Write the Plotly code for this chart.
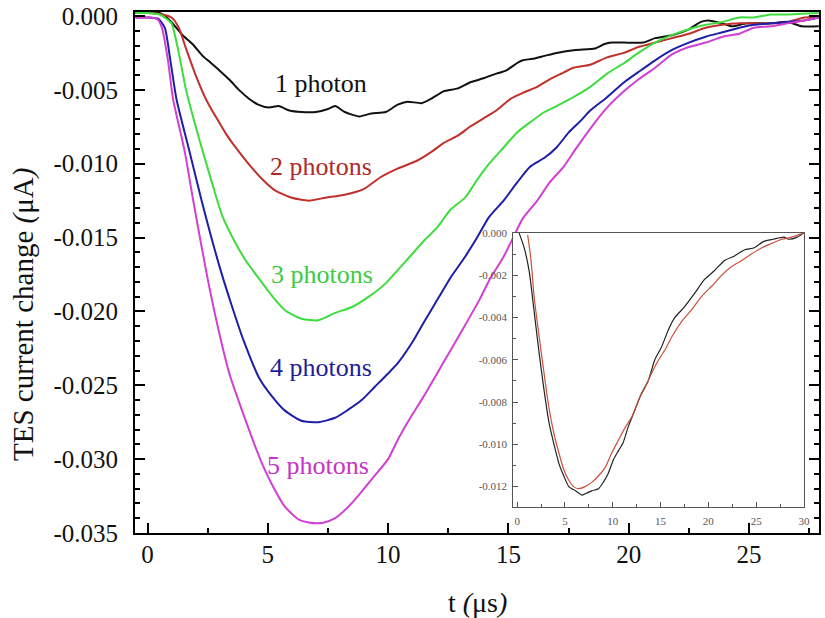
import plotly.graph_objects as go

# Averaged TES pulses for 1..5 detected photons (time in microseconds, current in microamps)
t_1ph = [-0.5, 0.0, 0.5, 0.93, 1.46, 1.87, 2.29, 2.58, 3.0, 3.4, 3.8, 4.22, 4.6, 5.05, 5.45, 5.9, 6.4,
         7.0, 7.5, 7.8, 8.2, 8.8, 9.3, 9.9, 10.4, 10.8, 11.4, 11.8, 12.3, 12.9, 13.4, 14.0, 14.5, 14.9,
         15.35, 15.6, 16.0, 16.5, 17.0, 17.8, 18.6, 19.0, 19.3, 19.8, 20.6, 21.1, 21.8, 22.5, 23.0,
         23.3, 23.9, 24.3, 24.9, 25.9, 26.6, 27.2, 27.9]
i_1ph = [0.0002, 0.0002, 0.0002, -0.0003, -0.0013, -0.0019, -0.0027, -0.0031, -0.0037, -0.0043,
         -0.0050, -0.0056, -0.0060, -0.0062, -0.0061, -0.0064, -0.0065, -0.0065, -0.0063, -0.0061,
         -0.0065, -0.0068, -0.0066, -0.0065, -0.0060, -0.0058, -0.0059, -0.0056, -0.0051, -0.0049,
         -0.0045, -0.0042, -0.0039, -0.0037, -0.0032, -0.0030, -0.0029, -0.0027, -0.0025, -0.0023,
         -0.0022, -0.0019, -0.0018, -0.0018, -0.0018, -0.0015, -0.0013, -0.0009, -0.0004, -0.0003,
         -0.0005, -0.0007, -0.0005, -0.0005, -0.0004, -0.0007, -0.0007]

t_2ph = [-0.5, 0.0, 0.6, 1.0, 1.3, 1.6, 2.0, 2.45, 3.27, 3.53, 4.35, 4.8, 5.3, 6.0, 6.7, 7.4, 8.2, 9.0,
         9.7, 10.3, 11.2, 11.8, 12.3, 12.9, 13.4, 14.0, 14.5, 15.1, 15.6, 16.2, 16.7, 17.2, 17.7, 18.4,
         19.1, 19.8, 20.4, 21.1, 21.8, 22.5, 23.2, 23.9, 24.6, 25.2, 25.9, 26.6, 27.3, 27.9]
i_2ph = [0.0002, 0.0002, 0.0001, -0.0001, -0.0008, -0.0022, -0.0040, -0.0057, -0.0080, -0.0086,
         -0.0103, -0.0111, -0.0118, -0.0123, -0.0125, -0.0123, -0.0121, -0.0117, -0.0109, -0.0104,
         -0.0098, -0.0092, -0.0086, -0.0081, -0.0075, -0.0069, -0.0064, -0.0056, -0.0052, -0.0048,
         -0.0043, -0.0039, -0.0035, -0.0033, -0.0028, -0.0025, -0.0021, -0.0018, -0.0015, -0.0012,
         -0.0008, -0.0006, -0.0005, -0.0005, -0.0005, -0.0004, -0.0001, -0.0001]

t_3ph = [-0.5, 0.0, 0.5, 0.8, 1.0, 1.3, 1.6, 2.16, 2.7, 3.1, 3.6, 4.06, 4.64, 5.2, 5.7, 6.4, 7.1, 7.8, 8.5,
         9.2, 9.9, 10.4, 10.9, 11.5, 12.05, 12.6, 13.2, 13.7, 14.2, 14.8, 15.35, 15.9, 16.5, 17.0, 17.7,
         18.4, 19.1, 19.8, 20.4, 21.1, 21.8, 22.5, 23.2, 23.9, 24.6, 25.2, 25.9, 26.6, 27.9]
i_3ph = [0.0002, 0.0002, 0.0001, -0.0002, -0.0005, -0.0025, -0.0050, -0.0084, -0.0114, -0.0135,
         -0.0152, -0.0165, -0.0178, -0.0190, -0.0199, -0.0205, -0.0206, -0.0201, -0.0197, -0.0190,
         -0.0181, -0.0172, -0.0163, -0.0152, -0.0143, -0.0131, -0.0123, -0.0111, -0.0100, -0.0089,
         -0.0079, -0.0072, -0.0065, -0.0061, -0.0055, -0.0048, -0.0039, -0.0032, -0.0025, -0.0018,
         -0.0013, -0.0009, -0.0006, -0.0004, -0.0001, -0.0001, 0.0001, 0.0001, 0.0002]

t_4ph = [-0.5, 0.0, 0.45, 0.72, 0.95, 1.2, 1.75, 2.25, 3.0, 3.5, 4.0, 4.64, 5.2, 5.7, 6.4, 7.1, 7.8, 8.3,
         8.9, 9.45, 10.0, 10.4, 11.0, 11.5, 12.05, 12.6, 13.2, 13.7, 14.2, 14.8, 15.35, 15.9, 16.5, 17.0,
         17.5, 18.0, 18.4, 19.1, 19.8, 20.4, 21.1, 21.8, 22.5, 23.2, 23.9, 24.6, 25.2, 25.9, 26.6, 27.3,
         27.9]
i_4ph = [-0.0001, -0.0001, -0.0002, -0.0008, -0.0030, -0.0056, -0.0092, -0.0125, -0.0170, -0.0196,
         -0.0220, -0.0245, -0.0258, -0.0267, -0.0274, -0.0275, -0.0272, -0.0267, -0.0260, -0.0251,
         -0.0242, -0.0235, -0.0221, -0.0207, -0.0192, -0.0177, -0.0163, -0.0150, -0.0136, -0.0125,
         -0.0113, -0.0102, -0.0096, -0.0089, -0.0079, -0.0071, -0.0064, -0.0055, -0.0045, -0.0038,
         -0.0030, -0.0023, -0.0018, -0.0014, -0.0011, -0.0008, -0.0006, -0.0005, -0.0004, -0.0003,
         -0.0001]

t_5ph = [-0.5, 0.0, 0.4, 0.6, 0.85, 1.06, 1.55, 1.9, 2.5, 3.0, 3.4, 3.95, 4.35, 4.76, 5.2, 5.7, 6.3, 6.75,
         7.3, 7.8, 8.3, 8.8, 9.3, 10.0, 10.4, 11.0, 11.5, 12.0, 12.5, 13.0, 13.8, 14.2, 14.8, 15.2, 15.6,
         16.2, 16.7, 17.3, 17.8, 18.6, 19.1, 19.8, 20.4, 21.1, 21.8, 22.5, 23.2, 23.9, 24.6, 25.2, 25.9,
         26.6, 27.3, 27.9]
i_5ph = [-0.0001, -0.0001, -0.0002, -0.0008, -0.0030, -0.0056, -0.0092, -0.0125, -0.0178, -0.0216,
         -0.0242, -0.0268, -0.0286, -0.0303, -0.0318, -0.0332, -0.0341, -0.0343, -0.0343, -0.0340,
         -0.0333, -0.0324, -0.0314, -0.0300, -0.0287, -0.0270, -0.0257, -0.0243, -0.0229, -0.0215,
         -0.0192, -0.0179, -0.0163, -0.0150, -0.0137, -0.0125, -0.0113, -0.0102, -0.0090, -0.0072,
         -0.0062, -0.0051, -0.0043, -0.0035, -0.0026, -0.0021, -0.0018, -0.0014, -0.0012, -0.0008,
         -0.0007, -0.0005, -0.0003, -0.0001]

# Inset: single 2-photon pulse and its fitted pulse shape
t_meas = [0.2, 0.73, 1.25, 1.77, 2.3, 2.8, 3.3, 3.85, 4.36, 4.88, 5.4, 6.1, 6.8, 7.3, 7.8, 8.5, 9.0, 9.5,
          10.1, 10.6, 11.1, 11.6, 12.3, 13.0, 13.7, 14.4, 15.1, 15.8, 16.5, 17.5, 18.5, 19.6, 20.6, 21.7,
          22.7, 23.8, 24.8, 25.8, 26.8, 27.9, 28.4, 29.3, 30.0]
i_meas = [0.0, -0.0007, -0.0018, -0.0037, -0.0057, -0.0074, -0.0089, -0.0100, -0.0109, -0.0115,
          -0.0120, -0.0122, -0.0124, -0.0123, -0.0122, -0.0121, -0.0118, -0.0114, -0.0107, -0.0103,
          -0.0099, -0.0092, -0.0084, -0.0076, -0.0070, -0.0060, -0.0054, -0.0046, -0.0040, -0.0035,
          -0.0029, -0.0022, -0.0018, -0.0013, -0.0011, -0.0008, -0.0007, -0.0004, -0.0003, -0.0002,
          -0.0003, -0.0002, 0.0]

t_fit = [1.1, 1.45, 1.77, 2.3, 2.8, 3.3, 3.85, 4.36, 4.88, 5.4, 5.9, 6.4, 7.1, 7.8, 8.5, 9.2, 9.9, 10.6,
         11.3, 12.0, 12.7, 13.4, 14.1, 14.8, 15.5, 16.2, 17.2, 18.3, 19.3, 20.4, 21.4, 22.4, 23.5, 24.5,
         25.6, 26.6, 27.7, 28.7, 30.0]
i_fit = [-0.0001, -0.0013, -0.0030, -0.0049, -0.0066, -0.0082, -0.0095, -0.0104, -0.0112, -0.0117,
         -0.0120, -0.0121, -0.0120, -0.0118, -0.0115, -0.0111, -0.0104, -0.0098, -0.0092, -0.0087,
         -0.0079, -0.0073, -0.0066, -0.0060, -0.0055, -0.0049, -0.0042, -0.0036, -0.0030, -0.0025,
         -0.0020, -0.0016, -0.0013, -0.0010, -0.0007, -0.0005, -0.0003, -0.0002, 0.0]

labels = ["1 photon", "2 photons", "3 photons", "4 photons", "5 photons"]
label_t = [7.23, 7.19, 7.27, 7.19, 7.07]
label_i = [-0.0046, -0.0102, -0.0175, -0.0238, -0.0304]

main_y_ticks = [0.0, -0.005, -0.010, -0.015, -0.020, -0.025, -0.030, -0.035]
main_x_ticks = [0, 5, 10, 15, 20, 25]
inset_y_ticks = [0.0, -0.002, -0.004, -0.006, -0.008, -0.010, -0.012]
inset_x_ticks = [0, 5, 10, 15, 20, 25, 30]

curve_colors = ["#111111", "#c0302c", "#3fdc3f", "#1e1ea6", "#d23fd2"]
label_colors = ["#111111", "#b02a2a", "#3ccc3c", "#1e1e96", "#c832c8"]
SERIF = "Liberation Serif, Times New Roman, serif"


def hyphen(v, nd=3):
    s = f"{abs(v):.{nd}f}"
    return s if abs(v) < 1e-12 else "-" + s


fig = go.Figure()
series = [(t_1ph, i_1ph), (t_2ph, i_2ph), (t_3ph, i_3ph), (t_4ph, i_4ph), (t_5ph, i_5ph)]
for (tt, ii), col, name in zip(series, curve_colors, labels):
    fig.add_trace(go.Scatter(x=tt, y=ii, mode="lines", name=name,
                             line=dict(color=col, width=2, shape="spline", smoothing=0.6),
                             xaxis="x", yaxis="y", hoverinfo="skip"))

fig.add_trace(go.Scatter(x=t_meas, y=i_meas, mode="lines", name="pulse",
                         line=dict(color="#222222", width=1.2, shape="spline", smoothing=0.6),
                         xaxis="x2", yaxis="y2", hoverinfo="skip"))
fig.add_trace(go.Scatter(x=t_fit, y=i_fit, mode="lines", name="fit",
                         line=dict(color="#c8503c", width=1.2, shape="spline", smoothing=0.8),
                         xaxis="x2", yaxis="y2", hoverinfo="skip"))

annotations = []
for txt, tx, iy, col in zip(labels, label_t, label_i, label_colors):
    annotations.append(dict(x=tx, y=iy, xref="x", yref="y", text=txt, showarrow=False,
                            font=dict(family=SERIF, size=26, color=col),
                            xanchor="center", yanchor="middle"))
annotations.append(dict(x=0.5, y=-0.134, xref="paper", yref="paper",
                        text="t <i>(</i>μs<i>)</i>", showarrow=False,
                        font=dict(family=SERIF, size=28, color="#111111"),
                        xanchor="center", yanchor="middle"))
annotations.append(dict(x=-0.164, y=0.42, xref="paper", yref="paper",
                        text="TES current change <i>(</i>μA<i>)</i>", showarrow=False, textangle=-90,
                        font=dict(family=SERIF, size=29, color="#111111"),
                        xanchor="center", yanchor="middle"))

main_axis = dict(showline=True, linecolor="black", linewidth=2, ticks="inside", ticklen=10,
                 tickwidth=2, tickcolor="black", showgrid=False, zeroline=False,
                 tickfont=dict(family=SERIF, size=25, color="#111111"))
inset_axis = dict(showline=True, linecolor="#555555", linewidth=1, mirror=True, ticks="inside",
                  ticklen=5, tickwidth=1, tickcolor="#555555", showgrid=False, zeroline=False,
                  tickfont=dict(family=SERIF, size=11, color="#555555"), ticklabelstandoff=3)

fig.update_layout(
    width=825, height=618,
    margin=dict(l=135, r=0, t=12, b=85),
    paper_bgcolor="white", plot_bgcolor="white",
    showlegend=False,
    xaxis=dict(main_axis, domain=[0, 1], range=[-0.52, 27.91], mirror=True,
               tickmode="array", tickvals=main_x_ticks, ticklabelstandoff=-2,
               minor=dict(tickmode="array", tickvals=[2.5, 7.5, 12.5, 17.5, 22.5, 27.5],
                          ticks="inside", ticklen=5, tickwidth=2, tickcolor="black")),
    yaxis=dict(main_axis, domain=[0, 1], range=[-0.035, 0.00027], mirror="ticks",
               tickmode="array", tickvals=main_y_ticks,
               ticktext=[hyphen(v) for v in main_y_ticks], ticklabelstandoff=10,
               minor=dict(tickmode="linear", tick0=0, dtick=0.001,
                          ticks="inside", ticklen=5, tickwidth=2, tickcolor="black")),
    xaxis2=dict(inset_axis, domain=[0.553, 0.978], anchor="y2", range=[-0.41, 30.0],
                tickmode="array", tickvals=inset_x_ticks,
                minor=dict(tickmode="array", tickvals=[2.5, 7.5, 12.5, 17.5, 22.5, 27.5],
                           ticks="inside", ticklen=3, tickwidth=1, tickcolor="#555555")),
    yaxis2=dict(inset_axis, domain=[0.0493, 0.5764], anchor="x2", range=[-0.01298, 0.00001],
                tickmode="array", tickvals=inset_y_ticks,
                ticktext=[hyphen(v) for v in inset_y_ticks],
                minor=dict(tickmode="array", tickvals=[-0.001, -0.003, -0.005, -0.007, -0.009, -0.011],
                           ticks="inside", ticklen=3, tickwidth=1, tickcolor="#555555")),
    shapes=[dict(type="rect", xref="x2", yref="y2", x0=-0.41, x1=30.0, y0=-0.01298, y1=0.00001,
                 fillcolor="white", line=dict(width=0), layer="below")],
    annotations=annotations,
)

fig.write_html("out.html")
